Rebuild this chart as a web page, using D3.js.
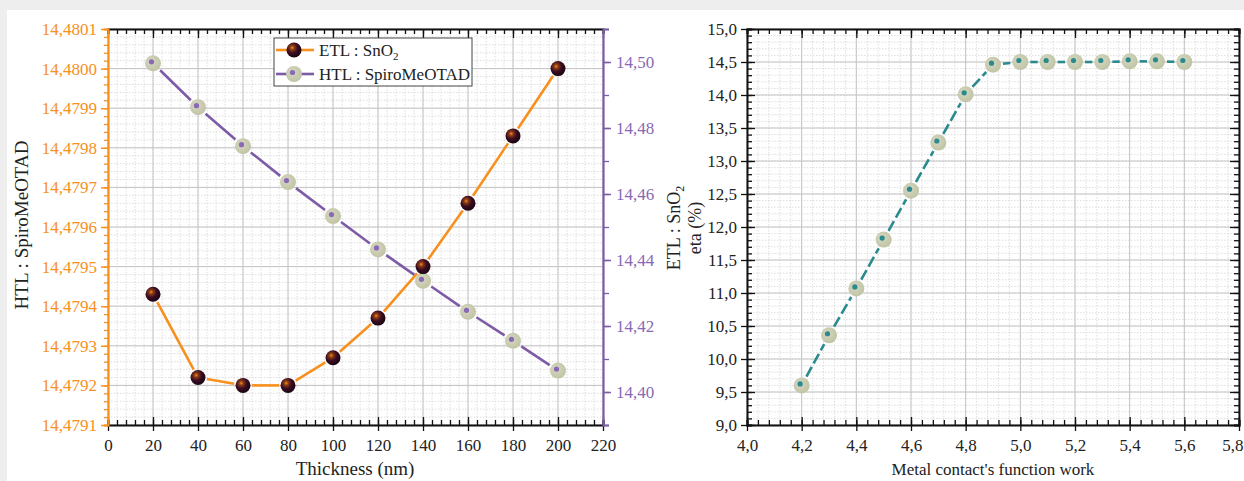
<!DOCTYPE html>
<html><head><meta charset="utf-8">
<script src="https://cdn.jsdelivr.net/npm/d3@7"></script>
<style>
html,body{margin:0;padding:0;background:#eeeeee;}
svg{display:block;}
text{font-family:"Liberation Serif","Times New Roman",serif;}
</style></head>
<body>
<svg id="chart" width="1244" height="481"></svg>
<script>
// ---------- data ----------
const thickness = [20, 40, 60, 80, 100, 120, 140, 160, 180, 200];
const etlValues = [14.47943, 14.47922, 14.47920, 14.47920, 14.47927, 14.47937, 14.47950, 14.47966, 14.47983, 14.48000];
const htlValues = [14.4996, 14.4863, 14.4745, 14.4636, 14.4533, 14.4432, 14.4337, 14.4243, 14.4155, 14.4065];
const thicknessTicks = [0, 20, 40, 60, 80, 100, 120, 140, 160, 180, 200, 220];
const leftTicks = [14.4791, 14.4792, 14.4793, 14.4794, 14.4795, 14.4796, 14.4797, 14.4798, 14.4799, 14.4800, 14.4801];
const rightTicks = [14.40, 14.42, 14.44, 14.46, 14.48, 14.50];
const workFunction = [4.2, 4.3, 4.4, 4.5, 4.6, 4.7, 4.8, 4.9, 5.0, 5.1, 5.2, 5.3, 5.4, 5.5, 5.6];
const etaValues = [9.60, 10.36, 11.07, 11.81, 12.55, 13.28, 14.01, 14.46, 14.50, 14.50, 14.50, 14.50, 14.51, 14.51, 14.50];
const workTicks = [4.0, 4.2, 4.4, 4.6, 4.8, 5.0, 5.2, 5.4, 5.6, 5.8];
const etaTicks = [9.0, 9.5, 10.0, 10.5, 11.0, 11.5, 12.0, 12.5, 13.0, 13.5, 14.0, 14.5, 15.0];
const legendLabels = [["ETL : SnO", "2"], ["HTL : SpiroMeOTAD", ""]];

const ORANGE = "#f7901e", PURPLE = "#7d5ba6", TEAL = "#2a8a8e";
const svg = d3.select("#chart");
const comma = (f) => (v) => d3.format(f)(v).replace(".", ",");

// background panel
svg.append("rect").attr("x", 0).attr("y", 0).attr("width", 1244).attr("height", 481).attr("fill", "#eeeeee");
svg.append("rect").attr("x", 7).attr("y", 10).attr("width", 1244).attr("height", 480).attr("fill", "#ffffff");

const defs = svg.append("defs");
const g1 = defs.append("radialGradient").attr("id", "sphere").attr("cx", "0.38").attr("cy", "0.35").attr("r", "0.65");
g1.append("stop").attr("offset", "0").attr("stop-color", "#f28a1e");
g1.append("stop").attr("offset", "0.22").attr("stop-color", "#8a3a14");
g1.append("stop").attr("offset", "0.55").attr("stop-color", "#3a0d22");
g1.append("stop").attr("offset", "1").attr("stop-color", "#1c0512");
const g2 = defs.append("radialGradient").attr("id", "pale").attr("cx", "0.4").attr("cy", "0.4").attr("r", "0.6");
g2.append("stop").attr("offset", "0").attr("stop-color", "#d6d8c2");
g2.append("stop").attr("offset", "1").attr("stop-color", "#c2c4a6");

function minorTicks(scale, step) {
  const [a, b] = scale.domain();
  const out = [];
  const n = Math.round((b - a) / step);
  for (let i = 0; i <= n; i++) out.push(a + i * step);
  return out;
}

function gappedSegments(g, pts, gap, color, width, dash) {
  for (let i = 0; i < pts.length - 1; i++) {
    const [x1, y1] = pts[i], [x2, y2] = pts[i + 1];
    const dx = x2 - x1, dy = y2 - y1, L = Math.hypot(dx, dy);
    if (L <= 2 * gap) continue;
    const ux = dx / L, uy = dy / L;
    g.append("line")
      .attr("x1", x1 + ux * gap).attr("y1", y1 + uy * gap)
      .attr("x2", x2 - ux * gap).attr("y2", y2 - uy * gap)
      .attr("stroke", color).attr("stroke-width", width)
      .attr("stroke-dasharray", dash || null).attr("stroke-linecap", "butt");
  }
}

function grid(g, x, y, xMajor, xMinor, yMajor, yMinor, x0, x1, y0, y1) {
  const gg = g.append("g");
  gg.selectAll(".vmin").data(xMinor).join("line")
    .attr("x1", d => x(d)).attr("x2", d => x(d)).attr("y1", y0).attr("y2", y1)
    .attr("stroke", "#d6d6d6").attr("stroke-width", 0.8).attr("stroke-dasharray", "1.5,1.5");
  gg.selectAll(".hmin").data(yMinor).join("line")
    .attr("y1", d => y(d)).attr("y2", d => y(d)).attr("x1", x0).attr("x2", x1)
    .attr("stroke", "#d6d6d6").attr("stroke-width", 0.8).attr("stroke-dasharray", "1.5,1.5");
  gg.selectAll(".vmaj").data(xMajor).join("line")
    .attr("x1", d => x(d)).attr("x2", d => x(d)).attr("y1", y0).attr("y2", y1)
    .attr("stroke", "#c4c4c4").attr("stroke-width", 1);
  gg.selectAll(".hmaj").data(yMajor).join("line")
    .attr("y1", d => y(d)).attr("y2", d => y(d)).attr("x1", x0).attr("x2", x1)
    .attr("stroke", "#c4c4c4").attr("stroke-width", 1);
}

function tickStyle(sel, color, w) {
  sel.select(".domain").attr("stroke", color).attr("stroke-width", w);
  sel.selectAll(".tick line").attr("stroke", color).attr("stroke-width", 1.3);
}

// ================= LEFT CHART =================
{
  const X0 = 108, X1 = 603, Y0 = 29, Y1 = 425;
  const x = d3.scaleLinear().domain([0, 220]).range([X0, X1]);
  const yL = d3.scaleLinear().domain([14.4791, 14.4801]).range([Y1, Y0]);
  const yR = d3.scaleLinear().domain([14.39, 14.51]).range([Y1, Y0]);
  const g = svg.append("g");

  grid(g, x, yL, thicknessTicks, minorTicks(x, 4), leftTicks, minorTicks(yL, 0.00002), X0, X1, Y0, Y1);

  const bMin = g.append("g").attr("transform", `translate(0,${Y1})`)
    .call(d3.axisBottom(x).tickValues(minorTicks(x, 4)).tickSize(-5).tickFormat(""));
  tickStyle(bMin, "#111", 2);
  const bMaj = g.append("g").attr("transform", `translate(0,${Y1})`)
    .call(d3.axisBottom(x).tickValues(thicknessTicks).tickSizeInner(6).tickSizeOuter(0).tickPadding(8).tickFormat(d3.format("d")));
  bMaj.select(".domain").remove();
  bMaj.selectAll(".tick line").attr("stroke", "#111").attr("stroke-width", 1.3).attr("y1", -8);
  bMaj.selectAll("text").attr("fill", "#222").attr("font-size", 17).attr("font-family", "Liberation Serif");

  const tMin = g.append("g").attr("transform", `translate(0,${Y0})`)
    .call(d3.axisTop(x).tickValues(minorTicks(x, 4)).tickSize(-5).tickFormat(""));
  tickStyle(tMin, "#111", 2);
  const tMaj = g.append("g").attr("transform", `translate(0,${Y0})`)
    .call(d3.axisTop(x).tickValues(thicknessTicks).tickSize(-9).tickFormat(""));
  tMaj.select(".domain").remove();
  tMaj.selectAll(".tick line").attr("stroke", "#111").attr("stroke-width", 1.3);

  const lMin = g.append("g").attr("transform", `translate(${X0},0)`)
    .call(d3.axisLeft(yL).tickValues(minorTicks(yL, 0.00002)).tickSize(4).tickFormat(""));
  tickStyle(lMin, ORANGE, 2.2);
  const lMaj = g.append("g").attr("transform", `translate(${X0},0)`)
    .call(d3.axisLeft(yL).tickValues(leftTicks).tickSize(7).tickPadding(4).tickFormat(comma(".4f")));
  lMaj.select(".domain").remove();
  lMaj.selectAll(".tick line").attr("stroke", ORANGE).attr("stroke-width", 1.5);
  lMaj.selectAll("text").attr("fill", ORANGE).attr("font-size", 17).attr("font-family", "Liberation Serif");

  const rMin = g.append("g").attr("transform", `translate(${X1},0)`)
    .call(d3.axisRight(yR).tickValues(minorTicks(yR, 0.01)).tickSize(6).tickFormat(""));
  tickStyle(rMin, PURPLE, 2.2);
  const rMaj = g.append("g").attr("transform", `translate(${X1},0)`)
    .call(d3.axisRight(yR).tickValues(rightTicks).tickSize(8).tickPadding(5).tickFormat(comma(".2f")));
  rMaj.select(".domain").remove();
  rMaj.selectAll(".tick line").attr("stroke", PURPLE).attr("stroke-width", 1.5);
  rMaj.selectAll("text").attr("fill", "#8a68b6").attr("font-size", 17).attr("font-family", "Liberation Serif");

  const etlPts = thickness.map((t, i) => [x(t), yL(etlValues[i])]);
  const htlPts = thickness.map((t, i) => [x(t), yR(htlValues[i])]);
  gappedSegments(g, htlPts, 10, PURPLE, 2.6);
  gappedSegments(g, etlPts, 9, ORANGE, 2.6);

  const hm = g.append("g").selectAll("g").data(htlPts).join("g").attr("transform", d => `translate(${d[0]},${d[1]})`);
  hm.append("circle").attr("r", 8).attr("fill", "url(#pale)");
  hm.append("circle").attr("r", 2.6).attr("cx", -1.5).attr("cy", -1.5).attr("fill", "#8a68b6");
  g.append("g").selectAll("circle").data(etlPts).join("circle")
    .attr("cx", d => d[0]).attr("cy", d => d[1]).attr("r", 7.5).attr("fill", "url(#sphere)");

  // legend
  const lg = g.append("g").attr("transform", "translate(274,38)");
  lg.append("rect").attr("width", 198).attr("height", 48).attr("fill", "#fff").attr("stroke", "#444").attr("stroke-width", 1);
  legendLabels.forEach((lab, i) => {
    const yy = 12 + i * 24;
    const col = i === 0 ? ORANGE : PURPLE;
    lg.append("line").attr("x1", 2).attr("x2", 13).attr("y1", yy).attr("y2", yy).attr("stroke", col).attr("stroke-width", 2.6);
    lg.append("line").attr("x1", 27).attr("x2", 40).attr("y1", yy).attr("y2", yy).attr("stroke", col).attr("stroke-width", 2.6);
    if (i === 0) {
      lg.append("circle").attr("cx", 20).attr("cy", yy).attr("r", 7.5).attr("fill", "url(#sphere)");
    } else {
      lg.append("circle").attr("cx", 20).attr("cy", yy).attr("r", 8).attr("fill", "url(#pale)");
      lg.append("circle").attr("cx", 18.5).attr("cy", yy - 1.5).attr("r", 2.6).attr("fill", "#8a68b6");
    }
    const t = lg.append("text").attr("x", 45).attr("y", yy + 6).attr("font-size", 17).attr("fill", "#222").text(lab[0]);
    if (lab[1]) t.append("tspan").attr("dy", 4).attr("font-size", 11).text(lab[1]);
  });

  svg.append("text").attr("x", 355).attr("y", 475).attr("text-anchor", "middle")
    .attr("font-size", 19).attr("fill", "#222").text("Thickness (nm)");
  svg.append("text").attr("transform", "translate(28,225) rotate(-90)").attr("text-anchor", "middle")
    .attr("font-size", 19).attr("fill", "#222").text("HTL : SpiroMeOTAD");
}

// ================= RIGHT CHART =================
{
  const X0 = 747, X1 = 1239, Y0 = 29, Y1 = 425;
  const x = d3.scaleLinear().domain([4.0, 5.8]).range([X0, X1]);
  const y = d3.scaleLinear().domain([9.0, 15.0]).range([Y1, Y0]);
  const g = svg.append("g");

  grid(g, x, y, workTicks, minorTicks(x, 0.04), etaTicks, minorTicks(y, 0.1), X0, X1, Y0, Y1);

  const bMin = g.append("g").attr("transform", `translate(0,${Y1})`)
    .call(d3.axisBottom(x).tickValues(minorTicks(x, 0.04)).tickSize(-5).tickFormat(""));
  tickStyle(bMin, "#111", 2);
  const bMaj = g.append("g").attr("transform", `translate(0,${Y1})`)
    .call(d3.axisBottom(x).tickValues(workTicks).tickSizeInner(6).tickSizeOuter(0).tickPadding(8).tickFormat(comma(".1f")));
  bMaj.select(".domain").remove();
  bMaj.selectAll(".tick line").attr("stroke", "#111").attr("stroke-width", 1.3).attr("y1", -8);
  bMaj.selectAll("text").attr("fill", "#222").attr("font-size", 17).attr("font-family", "Liberation Serif");
  // keep the last label inside the window
  bMaj.selectAll("text").filter((d, i, n) => i === n.length - 1).attr("text-anchor", "end").attr("x", 4);

  const tMin = g.append("g").attr("transform", `translate(0,${Y0})`)
    .call(d3.axisTop(x).tickValues(minorTicks(x, 0.04)).tickSize(-5).tickFormat(""));
  tickStyle(tMin, "#111", 2);
  const tMaj = g.append("g").attr("transform", `translate(0,${Y0})`)
    .call(d3.axisTop(x).tickValues(workTicks).tickSize(-9).tickFormat(""));
  tMaj.select(".domain").remove();
  tMaj.selectAll(".tick line").attr("stroke", "#111").attr("stroke-width", 1.3);

  const lMin = g.append("g").attr("transform", `translate(${X0},0)`)
    .call(d3.axisLeft(y).tickValues(minorTicks(y, 0.1)).tickSize(-5).tickFormat(""));
  tickStyle(lMin, "#111", 2);
  const lMaj = g.append("g").attr("transform", `translate(${X0},0)`)
    .call(d3.axisLeft(y).tickValues(etaTicks).tickSizeInner(6).tickSizeOuter(0).tickPadding(4).tickFormat(comma(".1f")));
  lMaj.select(".domain").remove();
  lMaj.selectAll(".tick line").attr("stroke", "#111").attr("stroke-width", 1.3).attr("x1", 8);
  lMaj.selectAll("text").attr("fill", "#222").attr("font-size", 17).attr("font-family", "Liberation Serif");

  const rMin = g.append("g").attr("transform", `translate(${X1},0)`)
    .call(d3.axisRight(y).tickValues(minorTicks(y, 0.1)).tickSize(-5).tickFormat(""));
  tickStyle(rMin, "#111", 2);
  const rMaj = g.append("g").attr("transform", `translate(${X1},0)`)
    .call(d3.axisRight(y).tickValues(etaTicks).tickSize(-9).tickFormat(""));
  rMaj.select(".domain").remove();
  rMaj.selectAll(".tick line").attr("stroke", "#111").attr("stroke-width", 1.3);

  const pts = workFunction.map((w, i) => [x(w), y(etaValues[i])]);
  gappedSegments(g, pts, 10, TEAL, 2.6, "11,4");

  const m = g.append("g").selectAll("g").data(pts).join("g").attr("transform", d => `translate(${d[0]},${d[1]})`);
  m.append("circle").attr("r", 8).attr("fill", "url(#pale)");
  m.append("circle").attr("r", 2.6).attr("cx", -1.5).attr("cy", -1.5).attr("fill", TEAL);

  svg.append("text").attr("x", 993).attr("y", 475).attr("text-anchor", "middle")
    .attr("font-size", 17).attr("fill", "#222").text("Metal contact's function work");
  const t1 = svg.append("text").attr("transform", "translate(680,228) rotate(-90)").attr("text-anchor", "middle")
    .attr("font-size", 18).attr("fill", "#222").text("ETL : SnO");
  t1.append("tspan").attr("dy", 4).attr("font-size", 12).text("2");
  svg.append("text").attr("transform", "translate(701,228) rotate(-90)").attr("text-anchor", "middle")
    .attr("font-size", 18).attr("fill", "#222").text("eta (%)");
}
</script>
</body></html>
